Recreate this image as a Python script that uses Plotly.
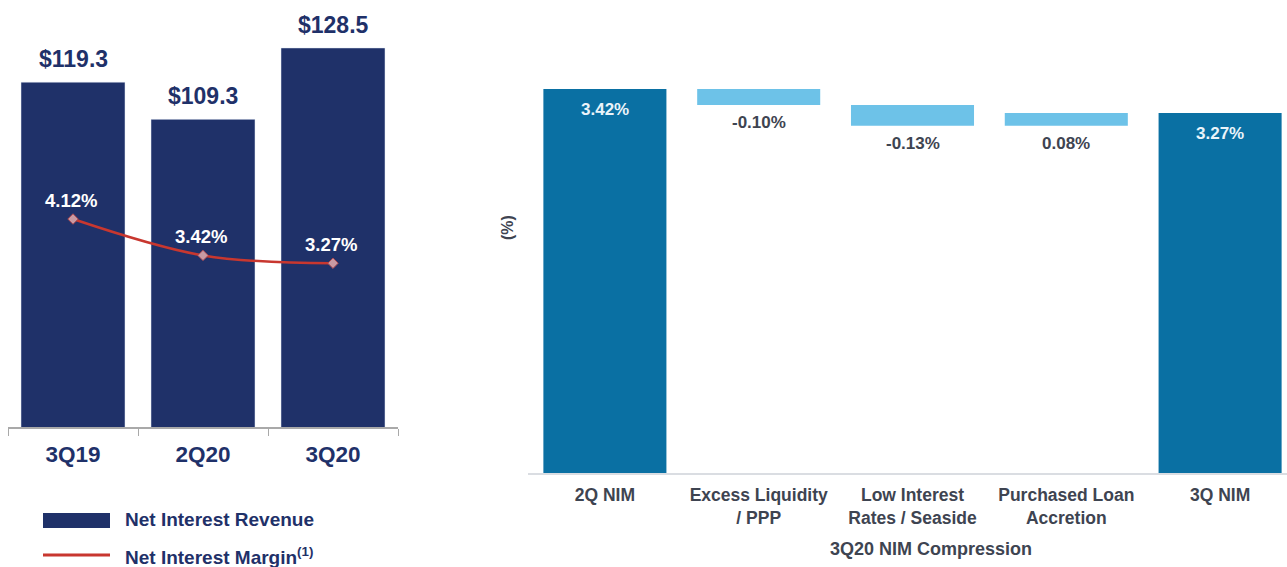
import plotly.graph_objects as go

# Net interest revenue ($M) and margin (%) by quarter
quarters = ["3Q19", "2Q20", "3Q20"]
revenue = [119.3, 109.3, 128.5]
margin = [4.12, 3.42, 3.27]

# NIM bridge from 2Q20 to 3Q20 (%)
bridge_labels = ["2Q NIM", "Excess Liquidity<br>/ PPP", "Low Interest<br>Rates / Seaside",
                 "Purchased Loan<br>Accretion", "3Q NIM"]
bridge_values = [3.42, -0.10, -0.13, 0.08, 3.27]
bridge_measure = ["absolute", "relative", "relative", "relative", "total"]

W, H = 1287, 567
NAVY = "#1F3169"
RED = "#C8372F"
TEAL = "#0A70A3"
LIGHT = "#6DC2E8"
TXT = "#3E4451"
FONT = "Liberation Sans, Arial, sans-serif"


def px_x(p):
    return p / W


def px_y(p):
    return 1 - p / H


def bold(size, color):
    return dict(family=FONT, size=size, color=color, weight="bold")


fig = go.Figure()

fig.add_trace(go.Bar(
    x=quarters, y=revenue, marker_color=NAVY, width=0.8,
    xaxis="x", yaxis="y", name="Net Interest Revenue", showlegend=False,
))
fig.add_trace(go.Scatter(
    x=quarters, y=margin, mode="lines+markers",
    line=dict(color=RED, width=2.5, shape="spline"),
    marker=dict(symbol="diamond", size=8, color="#C99AA3", line=dict(color="#B04A50", width=1)),
    xaxis="x", yaxis="y2", name="Net Interest Margin", showlegend=False,
))

fig.add_trace(go.Waterfall(
    x=list(range(len(bridge_labels))), y=bridge_values, measure=bridge_measure,
    width=0.8,
    increasing=dict(marker=dict(color=LIGHT)),
    decreasing=dict(marker=dict(color=LIGHT)),
    totals=dict(marker=dict(color=TEAL)),
    connector=dict(visible=False),
    xaxis="x3", yaxis="y3", showlegend=False,
))

annotations = []
# value labels above the revenue bars
for q, v in zip(quarters, revenue):
    annotations.append(dict(x=q, y=v, xref="x", yref="y", text=f"${v:.1f}", showarrow=False,
                            yanchor="middle", yshift=23, font=bold(23, NAVY)))
# margin labels above the line points
for q, v in zip(quarters, margin):
    annotations.append(dict(x=q, y=v, xref="x", yref="y2", text=f"{v:.2f}%", showarrow=False,
                            yanchor="middle", yshift=19, xshift=-2, font=bold(18.5, "white")))

# waterfall labels
running = 0.0
for i, (m, v) in enumerate(zip(bridge_measure, bridge_values)):
    if m in ("absolute", "total"):
        running = v if m == "absolute" else running
        annotations.append(dict(x=i, y=running, xref="x3", yref="y3", text=f"{v:.2f}%", showarrow=False,
                                yanchor="middle", yshift=-21, font=bold(17, "#EAF4FA")))
    else:
        lo = min(running, running + v)
        running += v
        annotations.append(dict(x=i, y=lo, xref="x3", yref="y3", text=f"{v:.2f}%", showarrow=False,
                                yanchor="middle", yshift=-18, font=bold(17, TXT)))

annotations.append(dict(x=px_x(507), y=px_y(228), xref="paper", yref="paper", text="(%)",
                        xanchor="center", yanchor="middle", textangle=-90, showarrow=False,
                        font=bold(16, TXT)))
annotations.append(dict(x=px_x(931), y=px_y(549), xref="paper", yref="paper",
                        xanchor="center", yanchor="middle",
                        text="3Q20 NIM Compression", showarrow=False, font=bold(18, TXT)))

# legend for the left panel
annotations.append(dict(x=px_x(123), y=px_y(519), xref="paper", yref="paper",
                        xanchor="left", yanchor="middle",
                        text="Net Interest Revenue", showarrow=False, font=bold(19, NAVY)))
annotations.append(dict(x=px_x(123), y=px_y(556), xref="paper", yref="paper",
                        xanchor="left", yanchor="middle",
                        text="Net Interest Margin<sup>(1)</sup>", showarrow=False, font=bold(19, NAVY)))

shapes = [
    dict(type="rect", xref="paper", yref="paper", x0=px_x(43), x1=px_x(110), y0=px_y(528), y1=px_y(513),
         fillcolor=NAVY, line=dict(width=0)),
    dict(type="line", xref="paper", yref="paper", x0=px_x(43), x1=px_x(110), y0=px_y(555), y1=px_y(555),
         line=dict(color=RED, width=3)),
]

fig.update_layout(
    width=W, height=H,
    margin=dict(l=0, r=0, t=0, b=0),
    paper_bgcolor="white", plot_bgcolor="white",
    annotations=annotations, shapes=shapes,
    xaxis=dict(domain=[px_x(8), px_x(398)], range=[-0.5, 2.5], type="category",
               showline=True, linecolor="#A9A9A9", linewidth=1.5,
               ticks="outside", tickson="boundaries", ticklen=7, tickcolor="#A9A9A9",
               tickfont=bold(22.5, NAVY), ticklabelstandoff=6,
               showgrid=False, zeroline=False),
    yaxis=dict(domain=[px_y(427), px_y(10)], range=[26.6, 138.7], visible=False),
    yaxis2=dict(overlaying="y", range=[0.12, 8.14], visible=False),
    xaxis3=dict(domain=[px_x(528), 1], range=[-0.5, 4.435], anchor="y3",
                tickmode="array", tickvals=list(range(len(bridge_labels))), ticktext=bridge_labels,
                showline=True, linecolor="#DADDE2", linewidth=1.5, ticks="",
                tickfont=bold(17.5, TXT), ticklabelstandoff=5,
                showgrid=False, zeroline=False),
    yaxis3=dict(domain=[px_y(473), px_y(60)], range=[1.02, 3.601], anchor="x3", visible=False),
)

fig.write_html("out.html")
